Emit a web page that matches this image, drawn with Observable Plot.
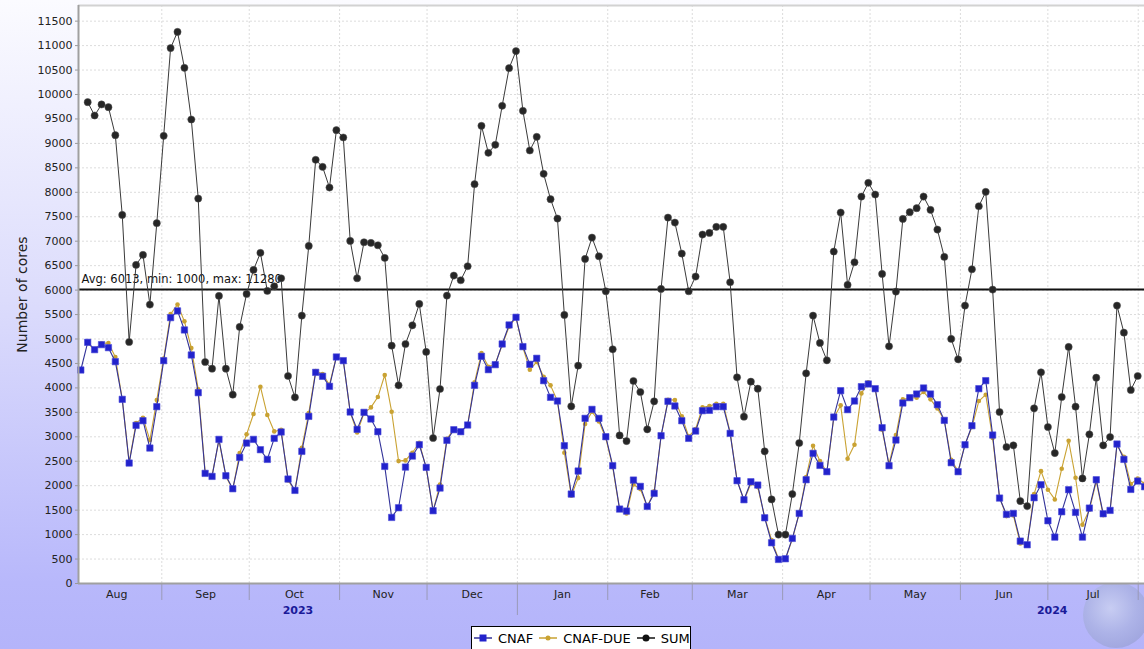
<!DOCTYPE html>
<html><head><meta charset="utf-8">
<script src="https://cdn.jsdelivr.net/npm/d3@7"></script>
<script src="https://cdn.jsdelivr.net/npm/@observablehq/plot@0.6"></script>
<style>
html,body{margin:0;padding:0;}
body{width:1144px;height:649px;overflow:hidden;position:relative;
background:linear-gradient(180deg,#fbfbff 0px,#dcdcfc 300px,#b8b8fb 583px,#b4b4fa 649px);
font-family:"DejaVu Sans",sans-serif;}
#chart{position:absolute;left:0;top:0;z-index:2;}
#globe{position:absolute;left:1083px;top:582px;width:66px;height:66px;border-radius:50%;z-index:1;
background:radial-gradient(circle at 42% 40%, rgba(205,212,240,0.75) 0%, rgba(170,178,225,0.75) 45%, rgba(150,158,210,0.7) 80%, rgba(160,165,220,0.45) 100%);}
#legend{position:absolute;left:471px;top:626px;width:220px;height:24px;background:#fff;border:1px solid #000;box-sizing:border-box;
display:flex;align-items:center;padding-left:2px;font-size:13px;color:#000;z-index:3;white-space:nowrap;}
#legend span.item{display:flex;align-items:center;flex-shrink:0;margin-right:6px;}
#legend span.item svg{margin-right:6px;flex-shrink:0;}
</style></head>
<body>
<div id="globe"></div>
<div id="chart"></div>
<div id="legend"></div>
<script>
// ---- data ----
const seriesNames = ["CNAF", "CNAF-DUE", "SUM"];
const cnaf = [4366,4932,4782,4885,4823,4537,3766,2463,3234,3329,
2770,3616,4557,5437,5574,5185,4673,3902,2252,2190,
2947,2204,1938,2579,2872,2947,2736,2538,2968,3098,
2136,1904,2702,3418,4318,4237,4032,4632,4557,3507,
3152,3500,3364,3104,2395,1351,1549,2381,2606,2838,
2375,1488,1952,2927,3145,3104,3241,4052,4646,4373,
4475,4898,5287,5444,4844,4482,4605,4148,3807,3732,
2818,1829,2300,3377,3561,3377,3002,2409,1522,1481,
2115,1986,1576,1842,3022,3725,3630,3329,2968,3118,
3534,3541,3616,3616,3070,2102,1713,2081,2013,1344,
833,492,506,922,1433,2122,2661,2415,2286,3404,
3943,3555,3732,4025,4080,3984,3186,2409,2934,3691,
3800,3875,3998,3875,3657,3336,2470,2286,2838,3227,
3984,4148,3036,1747,1413,1433,867,792,1754,2020,
1283,949,1467,1918,1454,949,1542,2122,1426,1495,
2852,2538,1924,2095,1979];
const cnafDue = [null,4912,4789,4911,4918,4631,3772,2476,3281,3391,
2933,3752,4598,5512,5706,5361,4816,3970,2278,2204,
2934,2190,1923,2667,3050,3466,4025,3445,3110,3144,
2107,1903,2776,3486,4346,4283,4065,4639,4564,3499,
3090,3479,3601,3813,4263,3513,2503,2517,2674,2879,
2360,1487,2025,2960,3152,3097,3247,4114,4713,4434,
4496,4871,5252,5443,4822,4373,4529,4229,4052,3731,
2674,1794,2155,3261,3513,3315,2974,2380,1507,1432,
2026,1930,1576,1883,3002,3758,3751,3418,3008,3158,
3602,3629,3677,3677,3090,2114,1698,2046,1971,1358,
887,508,494,907,1439,2176,2817,2504,2278,3384,
3643,2551,2838,3888,4113,3970,3145,2442,3035,3765,
3793,3800,3915,3766,3581,3343,2531,2298,2845,3199,
3731,3861,2974,1760,1378,1392,819,791,1828,2298,
1917,1719,2347,2919,2162,1200,1508,2087,1399,1500,
2831,2592,2033,2148,2040];
const sum = [null,9844,9571,9796,9741,9168,7538,4939,6515,6720,
5703,7368,9155,10949,11280,10546,9489,7872,4530,4394,
5881,4394,3861,5246,5922,6413,6761,5983,6078,6242,
4243,3807,5478,6904,8664,8520,8097,9271,9121,7006,
6242,6979,6965,6917,6658,4864,4052,4898,5280,5717,
4735,2975,3977,5887,6297,6201,6488,8166,9359,8807,
8971,9769,10539,10887,9666,8855,9134,8377,7859,7463,
5492,3623,4455,6638,7074,6692,5976,4789,3029,2913,
4141,3916,3152,3725,6024,7483,7381,6747,5976,6276,
7136,7170,7293,7293,6160,4216,3411,4127,3984,2702,
1720,1000,1000,1829,2872,4298,5478,4919,4564,6788,
7586,6106,6570,7913,8193,7954,6331,4851,5969,7456,
7593,7675,7913,7641,7238,6679,5001,4584,5683,6426,
7715,8009,6010,3507,2791,2825,1686,1583,3582,4318,
3200,2668,3814,4837,3616,2149,3050,4209,2825,2995,
5683,5130,3957,4243,null];
const stats = {avg: 6013, min: 1000, max: 11280};
const yTickValues = d3.range(0, 11501, 500);
const yearLabels = ["2023", "2024"];
const yAxisTitle = "Number of cores";

// sampling of the series: regular interval starting early August 2023
const DAY = 864e5;
const aug1 = Date.UTC(2023, 7, 1);
const firstSample = aug1 + 3.208 * DAY;
const sampleStep = 2.3701 * DAY;
const dates = cnaf.map((_, i) => new Date(firstSample + i * sampleStep));

const table = dates.map((date, i) => ({date, cnaf: cnaf[i], due: cnafDue[i], sum: sum[i]}));
const tCnaf = table.filter(d => d.cnaf != null);
const tDue = table.filter(d => d.due != null);
const tSum = table.filter(d => d.sum != null);

const x0 = new Date(aug1 + 2.419 * DAY);
const x1 = new Date(aug1 + 368.16 * DAY);
const yTop = 11820;
const unitsPerPx = yTop / 578;

const monthStarts = d3.utcMonths(new Date(Date.UTC(2023, 8, 1)), new Date(Date.UTC(2024, 7, 2)));
const allMonths = d3.utcMonths(new Date(Date.UTC(2023, 7, 1)), new Date(Date.UTC(2024, 7, 1)));
const monthMids = allMonths.map(m => new Date((+m + +d3.utcMonth.offset(m, 1)) / 2));
const yearStart = new Date(Date.UTC(2024, 0, 1));
const yearPos = [new Date((+x0 + +yearStart) / 2), new Date(Date.UTC(2024, 6, 2, 12))];

const colCnaf = "#2222cc", colCnafLine = "#333399";
const colDue = "#c9a232";
const colSum = "#262626";

const chart = Plot.plot({
  width: 1144, height: 623,
  marginLeft: 78, marginRight: 0, marginTop: 5, marginBottom: 40,
  style: {background: "transparent", fontFamily: "DejaVu Sans", fontSize: "11px", color: "#222"},
  x: {type: "utc", domain: [x0, x1]},
  y: {domain: [0, yTop]},
  marks: [
    Plot.frame({fill: "white", stroke: "none"}),
    Plot.gridY(yTickValues, {stroke: "#dcdcdc", strokeOpacity: 1, strokeDasharray: "2,2"}),
    Plot.gridX(monthStarts, {stroke: "#dcdcdc", strokeOpacity: 1, strokeDasharray: "2,2"}),
    Plot.ruleY([yTop], {stroke: "#d2d2d2", strokeWidth: 2}),
    Plot.ruleY([stats.avg], {stroke: "#111", strokeWidth: 2}),
    Plot.text([stats], {y: "avg", frameAnchor: "left", dx: 3, dy: -10, textAnchor: "start",
      text: d => `Avg: ${d.avg}, min: ${d.min}, max: ${d.max}`, fontSize: 11.5, fill: "#111"}),
    Plot.line(tDue, {x: "date", y: "due", stroke: colDue, strokeWidth: 1.1}),
    Plot.dot(tDue, {x: "date", y: "due", r: 2.3, fill: colDue, stroke: "none"}),
    Plot.line(tCnaf, {x: "date", y: "cnaf", stroke: colCnafLine, strokeWidth: 1.1}),
    Plot.dot(tCnaf, {x: "date", y: "cnaf", symbol: "square", r: 3.6, fill: colCnaf, stroke: "#4a4ad8", strokeWidth: 0.6}),
    Plot.line(tSum, {x: "date", y: "sum", stroke: "#3a3a3a", strokeWidth: 1}),
    Plot.dot(tSum, {x: "date", y: "sum", r: 3.6, fill: colSum, stroke: "#555", strokeWidth: 0.5}),
    // axes
    Plot.axisY({ticks: yTickValues, tickSize: 3, tickPadding: 3, tickFormat: d3.format("d"), label: null, stroke: "#999"}),
    Plot.axisX({ticks: monthMids, tickSize: 0, tickPadding: 7, tickFormat: d3.utcFormat("%b"), label: null, fill: "#222"}),
    Plot.ruleX(monthStarts, {y1: 0, y2: d => +d === +yearStart ? -32 * unitsPerPx : -17 * unitsPerPx, stroke: "#9a9ab8", strokeWidth: 1}),
    Plot.text(yearLabels, {x: (d, i) => yearPos[i], y: 0, dy: 27, text: d => d, fontWeight: "bold", fill: "#1a1a99", fontSize: 11}),
    Plot.ruleX([x0], {stroke: "#a0a0a0", strokeWidth: 2}),
    Plot.ruleY([0], {stroke: "#a0a0a0", strokeWidth: 2}),
    Plot.text([yAxisTitle], {frameAnchor: "left", dx: -56, rotate: -90, text: d => d, fontSize: 14, fill: "#222", textAnchor: "middle"})
  ]
});
document.getElementById("chart").appendChild(chart);

// legend
const legend = document.getElementById("legend");
const sw = (line, marker) => `<svg width="18" height="10" style="display:block">${line}${marker}</svg>`;
const items = [
  [seriesNames[0], sw(`<line x1="0" x2="18" y1="5" y2="5" stroke="${colCnafLine}" stroke-width="1.5"/>`, `<rect x="5.5" y="1.5" width="7" height="7" fill="${colCnaf}"/>`)],
  [seriesNames[1], sw(`<line x1="0" x2="18" y1="5" y2="5" stroke="${colDue}" stroke-width="1.5"/>`, `<circle cx="9" cy="5" r="2.5" fill="${colDue}"/>`)],
  [seriesNames[2], sw(`<line x1="0" x2="18" y1="5" y2="5" stroke="#111" stroke-width="1.5"/>`, `<circle cx="9" cy="5" r="3.5" fill="#111"/>`)]
];
legend.innerHTML = items.map(([name, s]) => `<span class="item">${s}<span>${name}</span></span>`).join("");
</script>
</body></html>
